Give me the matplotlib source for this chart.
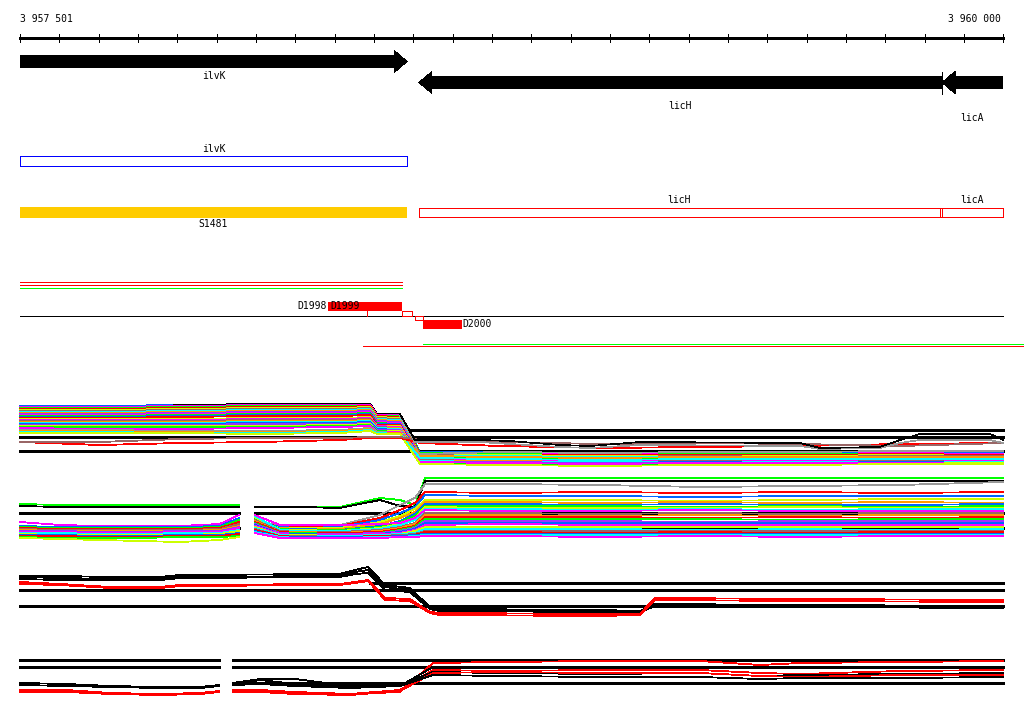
import matplotlib
matplotlib.use("Agg")
import matplotlib.pyplot as plt
from matplotlib.patches import Polygon, Rectangle
import numpy as np

plt.rcParams["font.family"] = "DejaVu Sans Mono"
plt.rcParams["lines.antialiased"] = False

## ---------------------------------------------------------------- data
START = 3957501
END = 3960000
# genes (offsets in bp from START)
gene_names = ["ilvK", "licH", "licA"]
gene_start = [0, 1014, 2344]
gene_end = [984, 2344, 2499]
gene_strand = [1, -1, -1]

# annotation boxes
ann_names = ["ilvK", "licH", "licA"]
ann_start = [0, 1014, 2344]
ann_end = [984, 2339, 2499]
seg_name = "S1481"
seg_start, seg_end = 0, 984

# D-segments
d_names = ["D1999", "D2000"]
d_start = [783, 1024]
d_end = [971, 1124]

# track 1 (dense expression profiles), x-knots in bp offsets
t1_x = [0, 203, 407, 610, 813, 890, 908, 966, 1017, 1220, 1474, 1729, 1983, 2237, 2499]
t1_lines = [
    ("#0066ff", [406, 406, 405, 404, 404, 404, 414, 414, 452, 452, 453, 452, 453, 452, 453]),
    ("#000000", [410, 410, 405, 404, 404, 404, 414, 414, 453, 453, 454, 453, 454, 453, 454]),
    ("#ff00ff", [407, 407, 406, 405, 405, 405, 415, 415, 453, 453, 454, 453, 454, 453, 454]),
    ("#00ff00", [408, 408, 407, 406, 406, 406, 416, 416, 453, 454, 455, 454, 454, 454, 455]),
    ("#ff0000", [409, 409, 408, 407, 407, 406, 416, 417, 454, 455, 455, 455, 455, 454, 455]),
    ("#ccff00", [410, 410, 409, 408, 408, 407, 417, 418, 455, 455, 456, 456, 456, 455, 456]),
    ("#996666", [411, 411, 410, 409, 409, 408, 418, 419, 455, 456, 457, 456, 457, 456, 456]),
    ("#00ffff", [412, 412, 411, 410, 410, 409, 419, 420, 456, 456, 457, 457, 457, 457, 457]),
    ("#ff9900", [413, 413, 412, 411, 411, 410, 420, 421, 456, 457, 458, 457, 458, 457, 458]),
    ("#9933ff", [414, 414, 413, 412, 412, 411, 421, 422, 457, 457, 458, 458, 458, 458, 458]),
    ("#ff00ff", [415, 415, 414, 413, 413, 412, 422, 423, 457, 458, 459, 458, 459, 458, 459]),
    ("#00ff00", [416, 416, 415, 414, 414, 413, 423, 424, 458, 458, 459, 459, 459, 459, 459]),
    ("#0066ff", [417, 417, 416, 415, 415, 414, 424, 424, 458, 459, 460, 459, 460, 459, 460]),
    ("#ff0000", [418, 418, 417, 416, 416, 415, 425, 425, 459, 459, 460, 460, 460, 460, 460]),
    ("#ccff00", [419, 419, 419, 418, 418, 417, 426, 426, 459, 460, 461, 460, 461, 460, 461]),
    ("#ff00ff", [420, 420, 420, 419, 419, 418, 426, 427, 460, 460, 461, 461, 461, 461, 461]),
    ("#996666", [421, 421, 421, 420, 420, 419, 427, 428, 460, 461, 462, 461, 462, 461, 462]),
    ("#ff9900", [422, 422, 422, 421, 421, 420, 428, 428, 461, 461, 462, 462, 462, 462, 462]),
    ("#00ffff", [423, 423, 423, 422, 422, 421, 428, 429, 461, 462, 462, 462, 462, 462, 462]),
    ("#0066ff", [424, 424, 424, 423, 423, 422, 429, 430, 462, 462, 463, 462, 463, 462, 463]),
    ("#9933ff", [425, 425, 425, 424, 424, 423, 430, 430, 462, 462, 463, 463, 463, 463, 463]),
    ("#ccff00", [426, 426, 426, 426, 425, 424, 431, 431, 463, 463, 464, 463, 464, 463, 463]),
    ("#00ff00", [427, 427, 427, 427, 426, 425, 431, 432, 463, 464, 465, 464, 464, 464, 464]),
    ("#ff00ff", [428, 429, 429, 428, 427, 426, 432, 432, 462, 463, 464, 463, 463, 463, 464]),
    ("#999999", [430, 430, 431, 431, 430, 428, 432, 433, 454, 452, 453, 452, 452, 451, 451]),
    ("#ff9900", [431, 431, 432, 432, 431, 429, 433, 433, 456, 457, 458, 457, 457, 457, 457]),
    ("#00ffff", [432, 432, 433, 433, 432, 430, 433, 434, 458, 459, 460, 459, 459, 459, 459]),
    ("#ccff00", [433, 433, 433, 434, 433, 431, 434, 434, 464, 465, 466, 465, 465, 464, 464]),
    ("#ff0000", [442, 445, 443, 442, 440, 438, 438, 438, 443, 446, 448, 447, 446, 444, 443]),
    ("#996666", [442, 442, 439, 438, 438, 437, 437, 437, 440, 442, 444, 443, 444, 446, 443]),
]
t1_top_x = [966, 1004, 1169, 1246, 1373, 1449, 1576, 1983, 2034, 2186, 2237, 2288, 2466, 2499]
t1_top_black = [414, 440, 440, 441, 445, 446, 442, 443, 448, 447, 440, 434, 434, 440]
t1_top_gray = [416, 442, 442, 444, 447, 448, 445, 446, 449, 448, 443, 440, 440, 443]

# track 2, left and right halves
t2l_x = [0, 102, 203, 305, 407, 508, 557]
t2l_lines = [
    ("#00ff00", [504, 505, 505, 505, 505, 505, 505]),
    ("#000000", [506, 507, 507, 507, 507, 507, 507]),
    ("#ff00ff", [522, 525, 526, 526, 526, 524, 515]),
    ("#0066ff", [526, 527, 527, 527, 527, 526, 518]),
    ("#00ff00", [527, 528, 528, 528, 528, 527, 520]),
    ("#ff0000", [528, 529, 529, 529, 529, 528, 522]),
    ("#996666", [529, 530, 530, 530, 530, 529, 524]),
    ("#ff9900", [530, 531, 531, 531, 531, 530, 526]),
    ("#9933ff", [531, 531, 532, 532, 531, 531, 527]),
    ("#ff00ff", [532, 532, 533, 533, 532, 532, 528]),
    ("#00ffff", [533, 533, 534, 534, 533, 533, 530]),
    ("#ccff00", [534, 535, 535, 535, 535, 534, 531]),
    ("#0066ff", [535, 535, 536, 536, 535, 535, 533]),
    ("#ff0000", [536, 536, 537, 537, 536, 536, 534]),
    ("#00ff00", [537, 538, 538, 538, 537, 537, 536]),
    ("#ccff00", [538, 539, 540, 541, 542, 540, 537]),
]
t2r_x = [597, 661, 712, 813, 915, 966, 1004, 1030, 1220, 1474, 1729, 1983, 2237, 2499]
t2r_lines = [
    ("#00ff00", [507, 507, 507, 507, 498, 500, 505, 478, 478, 478, 478, 478, 478, 478]),
    ("#000000", [507, 507, 507, 508, 500, 506, 507, 481, 481, 481, 481, 481, 481, 481]),
    ("#999999", [520, 526, 526, 525, 515, 505, 498, 484, 484, 485, 487, 486, 485, 482]),
    ("#ff0000", [521, 527, 527, 526, 518, 510, 503, 492, 493, 492, 493, 492, 493, 492]),
    ("#0066ff", [522, 527, 528, 527, 520, 513, 507, 495, 496, 496, 497, 496, 496, 496]),
    ("#ccff00", [523, 528, 528, 528, 522, 516, 509, 500, 500, 500, 501, 500, 499, 499]),
    ("#ff9900", [524, 528, 529, 529, 524, 518, 512, 502, 502, 503, 502, 503, 502, 503]),
    ("#0066ff", [519, 529, 529, 530, 526, 521, 514, 504, 504, 505, 504, 505, 505, 504]),
    ("#00ff00", [518, 529, 530, 530, 527, 522, 516, 506, 506, 506, 507, 506, 507, 506]),
    ("#ccff00", [517, 530, 530, 531, 528, 524, 518, 507, 508, 508, 508, 507, 508, 508]),
    ("#00ffff", [516, 530, 531, 531, 529, 525, 520, 509, 509, 510, 509, 510, 509, 509]),
    ("#ff00ff", [515, 525, 525, 525, 524, 523, 518, 510, 511, 511, 510, 511, 511, 511]),
    ("#996666", [520, 531, 532, 532, 530, 527, 523, 513, 513, 514, 513, 514, 513, 513]),
    ("#ff9900", [521, 532, 532, 533, 531, 528, 524, 515, 515, 516, 515, 516, 515, 515]),
    ("#ff0000", [522, 532, 533, 533, 532, 529, 526, 517, 517, 517, 518, 517, 518, 517]),
    ("#00ff00", [523, 533, 533, 534, 533, 530, 527, 519, 519, 519, 519, 520, 519, 519]),
    ("#9933ff", [524, 533, 534, 534, 533, 531, 528, 521, 521, 521, 522, 521, 521, 521]),
    ("#0066ff", [525, 534, 534, 535, 534, 532, 529, 523, 523, 523, 523, 523, 523, 523]),
    ("#ff00ff", [526, 534, 535, 535, 534, 533, 530, 525, 524, 525, 525, 525, 525, 525]),
    ("#ccff00", [527, 535, 535, 536, 535, 534, 531, 527, 527, 527, 527, 527, 527, 527]),
    ("#00ffff", [528, 535, 536, 536, 535, 534, 533, 529, 529, 529, 530, 529, 530, 529]),
    ("#996666", [529, 536, 536, 537, 536, 535, 534, 531, 531, 531, 531, 531, 531, 531]),
    ("#ff0000", [530, 536, 537, 537, 536, 536, 535, 532, 532, 533, 532, 533, 532, 532]),
    ("#0066ff", [531, 537, 537, 537, 537, 536, 535, 534, 534, 534, 534, 534, 534, 534]),
    ("#00ffff", [532, 537, 538, 538, 537, 537, 536, 535, 535, 535, 535, 535, 535, 535]),
    ("#ff00ff", [533, 538, 538, 538, 538, 537, 537, 536, 536, 537, 536, 537, 536, 536]),
]

# track 3
t3_x = [0, 102, 229, 356, 407, 813, 852, 885, 928, 991, 1042, 1068, 1474, 1576, 1614, 1983, 2499]
t3_lines = [
    ("#000000", [576, 576, 577, 577, 575, 574, 570, 567, 585, 588, 607, 609, 610, 611, 604, 605, 606]),
    ("#000000", [577, 578, 579, 579, 577, 576, 572, 570, 587, 590, 608, 610, 611, 611, 605, 606, 607]),
    ("#000000", [579, 580, 580, 580, 578, 577, 574, 573, 590, 592, 609, 611, 612, 612, 606, 607, 608]),
    ("#ff0000", [582, 584, 587, 587, 585, 584, 582, 580, 598, 599, 612, 613, 614, 614, 598, 599, 600]),
    ("#ff0000", [584, 585, 588, 588, 586, 585, 583, 581, 600, 601, 613, 615, 616, 615, 600, 601, 602]),
]

# track 4, left and right halves
t4l_x = [0, 119, 229, 356, 458, 506]
t4l_lines = [
    ("#000000", [683, 684, 686, 687, 687, 685]),
    ("#000000", [685, 686, 687, 688, 688, 686]),
    ("#ff0000", [690, 690, 693, 694, 693, 691]),
    ("#ff0000", [692, 692, 694, 695, 694, 692]),
]
t4r_x = [541, 610, 699, 839, 966, 1050, 1220, 1474, 1729, 1881, 1983, 2237, 2499]
t4r_lines = [
    ("#ff0000", [690, 690, 692, 694, 692, 663, 662, 661, 661, 665, 663, 662, 661]),
    ("#000000", [683, 679, 679, 686, 686, 667, 668, 668, 667, 668, 668, 667, 667]),
    ("#ff0000", [691, 691, 692, 694, 690, 670, 671, 670, 670, 673, 674, 671, 670]),
    ("#000000", [684, 680, 684, 687, 685, 672, 673, 674, 673, 676, 675, 674, 673]),
    ("#ff0000", [692, 692, 694, 695, 691, 673, 672, 673, 673, 676, 677, 675, 675]),
    ("#000000", [685, 684, 686, 688, 686, 675, 676, 677, 677, 679, 678, 678, 677]),
]

## ---------------------------------------------------------------- figure
bp_per_px = (END - START) / 983.0
LW = 0.5
fig = plt.figure(figsize=(10.24, 7.14), dpi=100)
ax = fig.add_axes([0, 0, 1, 1])
ax.set_xlim(START - 20 * bp_per_px, START + 1004 * bp_per_px)
ax.set_ylim(714, 0)
ax.axis("off")

def X(v):
    return START + np.asarray(v, dtype=float)

def hline(y, x0, x1, c="black", lw=LW, z=1):
    ax.plot(X([x0, x1]), [y, y], color=c, lw=lw, zorder=z)

# ruler
hline(38, 0, END - START, lw=0.9)
ticks = list(range(0, END - START, 100)) + [END - START]
for t in ticks:
    ax.plot(X([t, t]), [34, 42], color="black", lw=0.7)
ax.text(X(0), 19, "3 957 501", fontsize=7, va="center", ha="left")
ax.text(X(END - START) - 2 * bp_per_px, 19, "3 960 000", fontsize=7, va="center", ha="right")

# gene arrows
head = 13 * bp_per_px
rows = [61.5, 82.5, 82.5]
lab_y = [76, 106, 118]
for name, s, e, st, yc, ly in zip(gene_names, gene_start, gene_end, gene_strand, rows, lab_y):
    s, e = X(s), X(e)
    if st > 0:
        pts = [(s, yc - 6.5), (e - head, yc - 6.5), (e - head, yc - 11), (e, yc),
               (e - head, yc + 11), (e - head, yc + 6.5), (s, yc + 6.5)]
    else:
        pts = [(e, yc - 6.5), (s + head, yc - 6.5), (s + head, yc - 11), (s, yc),
               (s + head, yc + 11), (s + head, yc + 6.5), (e, yc + 6.5)]
    ax.add_patch(Polygon(pts, closed=True, facecolor="black", edgecolor="none",
                         antialiased=False))
    ax.text((s + e) / 2, ly, name, fontsize=7, ha="center", va="center")
ax.plot(X([gene_start[2], gene_start[2]]), [72, 94], color="black", lw=LW)

# annotation boxes
ax.add_patch(Rectangle((X(ann_start[0]), 155.5), ann_end[0] - ann_start[0], 10.5,
                       fill=False, edgecolor="#0000ff", lw=0.6, antialiased=False))
ax.text(X((ann_start[0] + ann_end[0]) / 2), 149, ann_names[0], fontsize=7, ha="center", va="center")
ax.add_patch(Rectangle((X(ann_start[1]), 207.5), ann_end[2] - ann_start[1], 9.5,
                       fill=False, edgecolor="#ff0000", lw=LW, antialiased=False))
ax.plot(X([ann_end[1], ann_end[1]]), [207.5, 217], color="#ff0000", lw=LW)
ax.plot(X([ann_start[2], ann_start[2]]), [207.5, 217], color="#ff0000", lw=LW)
for i in (1, 2):
    ax.text(X((ann_start[i] + ann_end[i]) / 2), 200, ann_names[i], fontsize=7, ha="center", va="center")

ax.add_patch(Rectangle((X(seg_start), 207), seg_end - seg_start, 10.5,
                       facecolor="#ffcc00", edgecolor="none", antialiased=False))
ax.text(X((seg_start + seg_end) / 2), 224, seg_name, fontsize=7, ha="center", va="center")

# D-segment track
hline(282, 0, 971, "#ff0000", 0.7)
hline(284.5, 0, 971, "#ff0000", 0.7)
hline(287.5, 0, 971, "#00ff00", 0.7)
hline(316, 0, END - START, "black", 0.7)
ax.add_patch(Rectangle((X(d_start[0]), 302), d_end[0] - d_start[0], 9,
                       facecolor="#ff0000", edgecolor="none", antialiased=False))
ax.add_patch(Rectangle((X(d_start[1]), 320), d_end[1] - d_start[1], 9,
                       facecolor="#ff0000", edgecolor="none", antialiased=False))
ax.add_patch(Rectangle((X(971), 311), 26, 5, fill=False, edgecolor="#ff0000", lw=LW, antialiased=False))
ax.add_patch(Rectangle((X(1004), 316), 20, 4, fill=False, edgecolor="#ff0000", lw=LW, antialiased=False))
ax.plot(X([882, 882]), [311, 316], color="#ff0000", lw=LW)
ax.text(X(d_start[0]) - 1 * bp_per_px, 306, "D1998", fontsize=7, ha="right", va="center")
ax.text(X(d_start[0]) + 2 * bp_per_px, 306, d_names[0], fontsize=7, ha="left", va="center")
ax.text(X(d_end[1]), 324, d_names[1], fontsize=7, ha="left", va="center")
hline(343.5, 1024, 2553, "#00ff00", 0.7)
hline(346, 872, 2553, "#ff0000", 0.7)

def draw(xk, lines, lw=0.6):
    for c, ys in lines:
        ax.plot(X(xk), ys, color=c, lw=lw, zorder=2)

# track 1
hline(430, 979, END - START, lw=0.8)
hline(437, 0, END - START, lw=0.8)
hline(451, 0, END - START, lw=0.8)
draw(t1_x, t1_lines)
ax.plot(X(t1_top_x), t1_top_gray, color="#999999", lw=LW, zorder=2)
ax.plot(X(t1_top_x), t1_top_black, color="black", lw=LW, zorder=2)

# track 2
for a, b in ((0, 557), (597, END - START)):
    hline(513, a, b, lw=0.8)
    hline(528, a, b, lw=0.8)
draw(t2l_x, t2l_lines)
draw(t2r_x, t2r_lines)

# track 3
hline(583, 890, END - START, lw=0.8)
hline(590, 0, END - START, lw=0.8)
hline(606, 0, END - START, lw=0.8)
draw(t3_x, t3_lines)

# track 4
hline(660, 0, 506, lw=0.8)
hline(667, 0, 506, lw=0.8)
for y in (660, 667, 683):
    hline(y, 541, END - START, lw=0.8)
draw(t4l_x, t4l_lines)
draw(t4r_x, t4r_lines)

plt.savefig("out.png", dpi=100)
